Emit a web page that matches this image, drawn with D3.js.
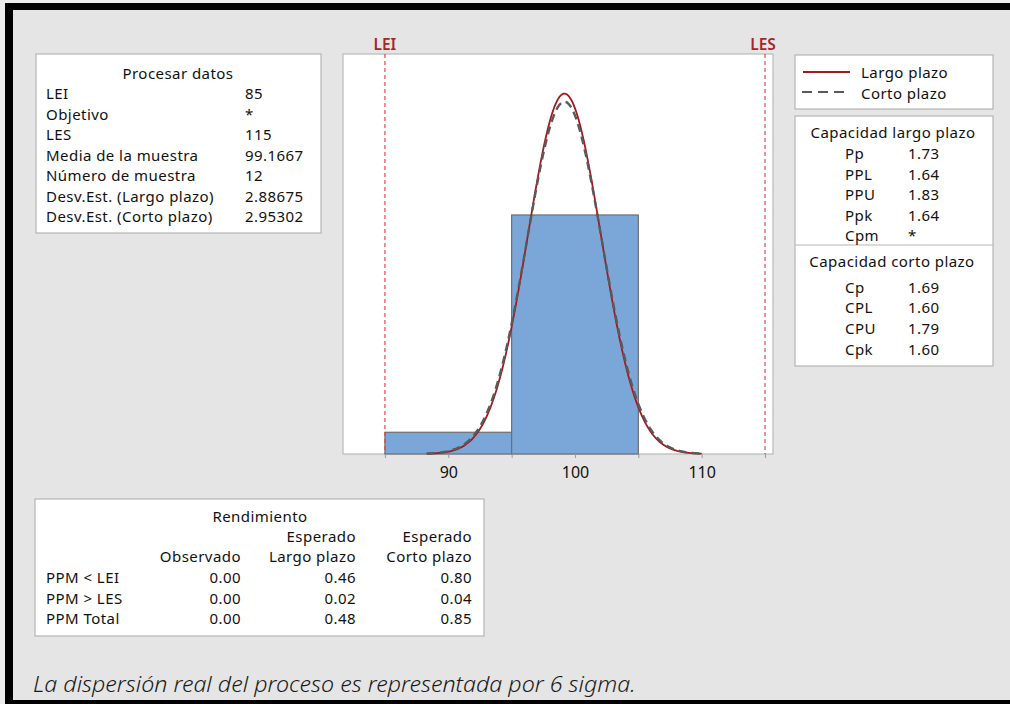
<!DOCTYPE html>
<html>
<head>
<meta charset="utf-8">
<script src="https://cdn.jsdelivr.net/npm/d3@7"></script>
<style>
  html, body { margin: 0; padding: 0; background: #ececec; }
  svg { display: block; }
  text { font-family: "Noto Sans", "Open Sans", sans-serif; fill: #111; }
</style>
</head>
<body>
<svg id="chart" width="1010" height="704"></svg>
<script>
// ---- Process data -------------------------------------------------------
const LSL = 85, USL = 115;
const sampleMean = 99.1667;
const sdOverall = 2.88675;   // long term
const sdWithin = 2.95302;    // short term
const sampleN = 12;

// histogram bins (lower edge, upper edge, count)
const binEdges = [85, 95, 105];
const binCounts = [1, 11];

// axis ticks
const tickValues = [85, 90, 95, 100, 105, 110, 115];
const tickLabels = [90, 100, 110];

// table: Procesar datos
const procLabels = ["LEI", "Objetivo", "LES", "Media de la muestra", "Número de muestra",
                    "Desv.Est. (Largo plazo)", "Desv.Est. (Corto plazo)"];
const procValues = ["85", "*", "115", "99.1667", "12", "2.88675", "2.95302"];

// capability tables
const longLabels = ["Pp", "PPL", "PPU", "Ppk", "Cpm"];
const longValues = ["1.73", "1.64", "1.83", "1.64", "*"];
const shortLabels = ["Cp", "CPL", "CPU", "Cpk"];
const shortValues = ["1.69", "1.60", "1.79", "1.60"];

// performance table
const perfRows = ["PPM < LEI", "PPM > LES", "PPM Total"];
const perfObserved = ["0.00", "0.00", "0.00"];
const perfLong = ["0.46", "0.02", "0.48"];
const perfShort = ["0.80", "0.04", "0.85"];

// x-range over which the fitted curves are drawn
const curveRange = [88.3, 110.0];

// ---- Drawing ------------------------------------------------------------
const svg = d3.select("#chart");

// outer frame
svg.append("rect").attr("x", 0).attr("y", 0).attr("width", 1010).attr("height", 704).attr("fill", "#ececec");
svg.append("rect").attr("x", 5).attr("y", 3).attr("width", 1010).attr("height", 701).attr("fill", "#000");
svg.append("rect").attr("x", 13).attr("y", 10).attr("width", 1000).attr("height", 690).attr("fill", "#e5e5e5");

// plot area
const plot = { left: 343, right: 773, top: 54, bottom: 454 };
const x = d3.scaleLinear().domain([81.69, 115.63]).range([plot.left, plot.right]);
const y = d3.scaleLinear().domain([0, 0.1534]).range([plot.bottom, plot.top]);

svg.append("rect")
  .attr("x", plot.left).attr("y", plot.top)
  .attr("width", plot.right - plot.left).attr("height", plot.bottom - plot.top)
  .attr("fill", "#fff").attr("stroke", "#b9b9b9").attr("stroke-width", 1.2);

// histogram as density
const binWidth = binEdges[1] - binEdges[0];
const bins = binCounts.map((c, i) => ({ x0: binEdges[i], x1: binEdges[i + 1], d: c / (sampleN * binWidth) }));
svg.append("g").selectAll("rect").data(bins).join("rect")
  .attr("x", d => x(d.x0)).attr("y", d => y(d.d))
  .attr("width", d => x(d.x1) - x(d.x0)).attr("height", d => y(0) - y(d.d))
  .attr("fill", "#7ba7d8").attr("stroke", "#6e6e6e").attr("stroke-width", 1.2);

// spec limits
[LSL, USL].forEach(v => {
  svg.append("line")
    .attr("x1", x(v)).attr("x2", x(v)).attr("y1", plot.top).attr("y2", plot.bottom)
    .attr("stroke", "#e23a40").attr("stroke-width", 1.1).attr("stroke-dasharray", "4,3");
});
svg.append("text").attr("x", x(LSL)).attr("y", 50).attr("text-anchor", "middle")
  .style("font-size", "15.5px").style("font-weight", "600").style("fill", "#a3262a").text("LEI");
svg.append("text").attr("x", x(USL) - 2).attr("y", 50).attr("text-anchor", "middle")
  .style("font-size", "15.5px").style("font-weight", "600").style("fill", "#a3262a").text("LES");

// fitted normal curves
const normPdf = (v, m, s) => Math.exp(-0.5 * ((v - m) / s) ** 2) / (s * Math.sqrt(2 * Math.PI));
const xs = d3.range(curveRange[0], curveRange[1] + 0.001, 0.05);
const line = d3.line().x(d => x(d[0])).y(d => y(d[1])).curve(d3.curveLinear);
svg.append("path")
  .attr("d", line(xs.map(v => [v, normPdf(v, sampleMean, sdOverall)])))
  .attr("fill", "none").attr("stroke", "#a8171c").attr("stroke-width", 1.8);
svg.append("path")
  .attr("d", line(xs.map(v => [v, normPdf(v, sampleMean, sdWithin)])))
  .attr("fill", "none").attr("stroke", "#5a5a5a").attr("stroke-width", 2.4)
  .attr("stroke-dasharray", "8,5");

// x axis
const axis = d3.axisBottom(x).tickValues(tickValues).tickSize(4).tickPadding(6)
  .tickFormat(d => tickLabels.includes(d) ? d : "");
const gAxis = svg.append("g").attr("transform", `translate(0,${plot.bottom})`).call(axis);
gAxis.select(".domain").remove();
gAxis.selectAll(".tick line").attr("stroke", "#9a9a9a");
gAxis.selectAll(".tick text").style("font-size", "16px").style("fill", "#111")
  .style("font-family", "'Noto Sans', sans-serif").attr("dy", "0.9em");

// helper for boxes
function box(x0, y0, w, h) {
  svg.append("rect").attr("x", x0).attr("y", y0).attr("width", w).attr("height", h)
    .attr("fill", "#fff").attr("stroke", "#b5b5b5").attr("stroke-width", 1.2);
}
const fs = "15px";
function txt(tx, ty, s, anchor) {
  return svg.append("text").attr("x", tx).attr("y", ty).attr("text-anchor", anchor || "start")
    .style("font-size", fs).style("letter-spacing", "0.45px").text(s);
}

// Procesar datos
box(36, 54, 285, 179);
txt(178, 79, "Procesar datos", "middle");
procLabels.forEach((s, i) => {
  txt(46, 99 + i * 20.5, s);
  txt(245, 99 + i * 20.5, procValues[i]);
});

// legend
box(795, 55, 198, 54);
svg.append("line").attr("x1", 803).attr("x2", 850).attr("y1", 72).attr("y2", 72)
  .attr("stroke", "#a8171c").attr("stroke-width", 1.8);
svg.append("line").attr("x1", 802).attr("x2", 850).attr("y1", 92).attr("y2", 92)
  .attr("stroke", "#5a5a5a").attr("stroke-width", 2.2).attr("stroke-dasharray", "10,6");
txt(861, 78, "Largo plazo");
txt(861, 98.5, "Corto plazo");

// capability box
box(795, 116, 198, 250);
svg.append("line").attr("x1", 795).attr("x2", 993).attr("y1", 245).attr("y2", 245)
  .attr("stroke", "#b5b5b5").attr("stroke-width", 1.2);
txt(893, 138, "Capacidad largo plazo", "middle");
longLabels.forEach((s, i) => {
  txt(845, 159 + i * 20.5, s);
  txt(908, 159 + i * 20.5, longValues[i]);
});
txt(892, 267, "Capacidad corto plazo", "middle");
shortLabels.forEach((s, i) => {
  txt(845, 292.5 + i * 20.7, s);
  txt(908, 292.5 + i * 20.7, shortValues[i]);
});

// Rendimiento
box(35, 499, 449, 137);
txt(260, 522, "Rendimiento", "middle");
txt(356, 542, "Esperado", "end");
txt(472, 542, "Esperado", "end");
txt(241, 562, "Observado", "end");
txt(356, 562, "Largo plazo", "end");
txt(472, 562, "Corto plazo", "end");
perfRows.forEach((s, i) => {
  const yy = 583 + i * 20.5;
  txt(46, yy, s);
  txt(241, yy, perfObserved[i], "end");
  txt(356, yy, perfLong[i], "end");
  txt(472, yy, perfShort[i], "end");
});

// footnote
const note = svg.append("text").attr("x", 0).attr("y", 0)
  .style("font-size", "22px").style("font-style", "italic").style("font-weight", "300")
  .style("fill", "#1a1a1a")
  .text("La dispersión real del proceso es representada por 6 sigma.");
const noteLen = note.node().getComputedTextLength();
note.attr("transform", `translate(33,692) scale(${603 / noteLen},1)`);
</script>
</body>
</html>
